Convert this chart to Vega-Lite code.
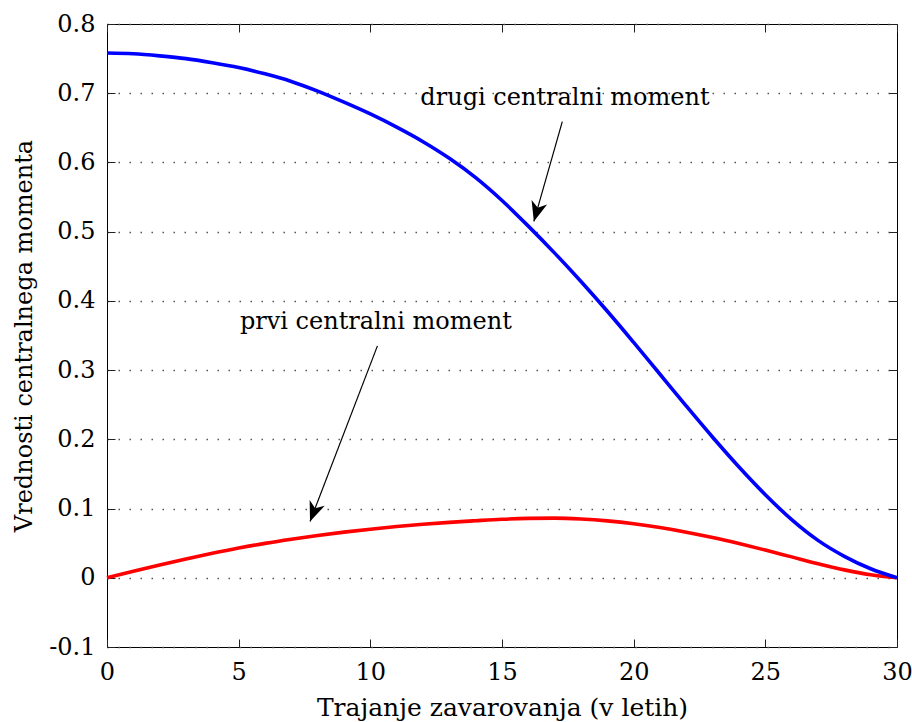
{
  "$schema": "https://vega.github.io/schema/vega-lite/v6.json",
  "width": 790,
  "height": 623,
  "autosize": "none",
  "padding": {"left": 107, "top": 24, "right": 15, "bottom": 75},
  "background": "white",
  "config": {
    "view": {"stroke": "black", "strokeWidth": 1},
    "font": "DejaVu Serif",
    "axis": {
      "labelFont": "DejaVu Serif",
      "labelFontSize": 24,
      "labelColor": "black",
      "titleFont": "DejaVu Serif",
      "titleFontSize": 25,
      "titleFontWeight": "normal",
      "titleColor": "black",
      "domain": false,
      "tickColor": "#222",
      "tickWidth": 1,
      "tickSize": -8
    }
  },
  "datasets": {
    "curves": [
      {"t": 0, "m": 0.0000, "s": "prvi"}, {"t": 1, "m": 0.0093, "s": "prvi"}, {"t": 2, "m": 0.0184, "s": "prvi"},
      {"t": 3, "m": 0.0271, "s": "prvi"}, {"t": 4, "m": 0.0353, "s": "prvi"}, {"t": 5, "m": 0.0429, "s": "prvi"},
      {"t": 6, "m": 0.0497, "s": "prvi"}, {"t": 7, "m": 0.0557, "s": "prvi"}, {"t": 8, "m": 0.0611, "s": "prvi"},
      {"t": 9, "m": 0.0659, "s": "prvi"}, {"t": 10, "m": 0.0702, "s": "prvi"}, {"t": 11, "m": 0.0740, "s": "prvi"},
      {"t": 12, "m": 0.0773, "s": "prvi"}, {"t": 13, "m": 0.0801, "s": "prvi"}, {"t": 14, "m": 0.0824, "s": "prvi"},
      {"t": 15, "m": 0.0845, "s": "prvi"}, {"t": 16, "m": 0.0858, "s": "prvi"}, {"t": 17, "m": 0.0862, "s": "prvi"},
      {"t": 18, "m": 0.0849, "s": "prvi"}, {"t": 19, "m": 0.0822, "s": "prvi"}, {"t": 20, "m": 0.0781, "s": "prvi"},
      {"t": 21, "m": 0.0726, "s": "prvi"}, {"t": 22, "m": 0.0659, "s": "prvi"}, {"t": 23, "m": 0.0581, "s": "prvi"},
      {"t": 24, "m": 0.0494, "s": "prvi"}, {"t": 25, "m": 0.0400, "s": "prvi"}, {"t": 26, "m": 0.0302, "s": "prvi"},
      {"t": 27, "m": 0.0204, "s": "prvi"}, {"t": 28, "m": 0.0114, "s": "prvi"}, {"t": 29, "m": 0.0044, "s": "prvi"},
      {"t": 30, "m": 0.0000, "s": "prvi"},
      {"t": 0, "m": 0.758, "s": "drugi"}, {"t": 1, "m": 0.757, "s": "drugi"}, {"t": 2, "m": 0.754, "s": "drugi"},
      {"t": 3, "m": 0.750, "s": "drugi"}, {"t": 4, "m": 0.744, "s": "drugi"}, {"t": 5, "m": 0.737, "s": "drugi"},
      {"t": 6, "m": 0.728, "s": "drugi"}, {"t": 7, "m": 0.717, "s": "drugi"}, {"t": 8, "m": 0.703, "s": "drugi"},
      {"t": 9, "m": 0.687, "s": "drugi"}, {"t": 10, "m": 0.670, "s": "drugi"}, {"t": 11, "m": 0.651, "s": "drugi"},
      {"t": 12, "m": 0.630, "s": "drugi"}, {"t": 13, "m": 0.606, "s": "drugi"}, {"t": 14, "m": 0.578, "s": "drugi"},
      {"t": 15, "m": 0.545, "s": "drugi"}, {"t": 16, "m": 0.508, "s": "drugi"}, {"t": 17, "m": 0.469, "s": "drugi"},
      {"t": 18, "m": 0.428, "s": "drugi"}, {"t": 19, "m": 0.385, "s": "drugi"}, {"t": 20, "m": 0.340, "s": "drugi"},
      {"t": 21, "m": 0.294, "s": "drugi"}, {"t": 22, "m": 0.248, "s": "drugi"}, {"t": 23, "m": 0.203, "s": "drugi"},
      {"t": 24, "m": 0.160, "s": "drugi"}, {"t": 25, "m": 0.120, "s": "drugi"}, {"t": 26, "m": 0.084, "s": "drugi"},
      {"t": 27, "m": 0.054, "s": "drugi"}, {"t": 28, "m": 0.031, "s": "drugi"}, {"t": 29, "m": 0.013, "s": "drugi"},
      {"t": 30, "m": 0.000, "s": "drugi"}
    ],
    "notes": [
      {"s": "drugi", "label": "drugi centralni moment", "tx": 17.39, "ty": 0.683, "x0": 17.29, "y0": 0.659, "x1": 16.21, "y1": 0.5148},
      {"s": "prvi", "label": "prvi centralni moment", "tx": 10.21, "ty": 0.360, "x0": 10.27, "y0": 0.335, "x1": 7.71, "y1": 0.0813}
    ]
  },
  "resolve": {"axis": {"x": "independent", "y": "independent"}},
  "layer": [
    {
      "data": {"name": "curves"},
      "transform": [{"filter": "datum.s === 'prvi'"}],
      "mark": {"type": "line", "color": "#ff0000", "strokeWidth": 3.6, "interpolate": "monotone"},
      "encoding": {
        "x": {
          "field": "t", "type": "quantitative",
          "scale": {"domain": [0, 30], "nice": false, "zero": false},
          "axis": {
            "orient": "bottom",
            "title": "Trajanje zavarovanja (v letih)",
            "titleFontSize": 25,
            "values": [0, 5, 10, 15, 20, 25, 30],
            "grid": false,
            "labelPadding": 21,
            "titlePadding": 11,
            "labelFlush": false
          }
        },
        "y": {
          "field": "m", "type": "quantitative",
          "scale": {"domain": [-0.1, 0.8], "nice": false, "zero": false},
          "axis": {
            "orient": "left",
            "title": "Vrednosti centralnega momenta",
            "titleFontSize": 24,
            "values": [-0.1, 0, 0.1, 0.2, 0.3, 0.4, 0.5, 0.6, 0.7, 0.8],
            "labelExpr": "datum.value == 0 ? '0' : replace(format(datum.value, '.1f'), '\u2212', '-')",
            "grid": true,
            "gridColor": "#555",
            "gridDash": [1.5, 9.5],
            "gridWidth": 1.4,
            "labelPadding": 20,
            "titlePadding": 12,
            "labelFlush": false
          }
        }
      }
    },
    {
      "data": {"name": "curves"},
      "transform": [{"filter": "datum.s === 'drugi'"}],
      "mark": {"type": "line", "color": "#0000ff", "strokeWidth": 3.6, "interpolate": "monotone"},
      "encoding": {
        "x": {
          "field": "t", "type": "quantitative",
          "axis": {"orient": "top", "title": null, "labels": false, "values": [0, 5, 10, 15, 20, 25, 30], "grid": false}
        },
        "y": {
          "field": "m", "type": "quantitative",
          "axis": {"orient": "right", "title": null, "labels": false, "values": [-0.1, 0, 0.1, 0.2, 0.3, 0.4, 0.5, 0.6, 0.7, 0.8], "grid": false}
        }
      }
    },
    {
      "data": {"name": "notes"},
      "mark": {"type": "rule", "color": "black", "strokeWidth": 1.2},
      "encoding": {
        "x": {"field": "x0", "type": "quantitative", "axis": null},
        "y": {"field": "y0", "type": "quantitative", "axis": null},
        "x2": {"field": "x1"},
        "y2": {"field": "y1"}
      }
    },
    {
      "data": {"name": "notes"},
      "transform": [{"filter": "datum.s === 'drugi'"}],
      "mark": {"type": "point", "shape": "M0,0L0.85,2.1L0,1.5L-0.85,2.1Z", "filled": true, "color": "black", "opacity": 1, "size": 361, "angle": 195.9, "strokeWidth": 0},
      "encoding": {
        "x": {"field": "x1", "type": "quantitative", "axis": null},
        "y": {"field": "y1", "type": "quantitative", "axis": null}
      }
    },
    {
      "data": {"name": "notes"},
      "transform": [{"filter": "datum.s === 'prvi'"}],
      "mark": {"type": "point", "shape": "M0,0L0.85,2.1L0,1.5L-0.85,2.1Z", "filled": true, "color": "black", "opacity": 1, "size": 361, "angle": 201.0, "strokeWidth": 0},
      "encoding": {
        "x": {"field": "x1", "type": "quantitative", "axis": null},
        "y": {"field": "y1", "type": "quantitative", "axis": null}
      }
    },
    {
      "data": {"name": "notes"},
      "mark": {"type": "text", "font": "DejaVu Serif", "fontSize": 24, "align": "center", "baseline": "alphabetic", "color": "black"},
      "encoding": {
        "x": {"field": "tx", "type": "quantitative", "axis": null},
        "y": {"field": "ty", "type": "quantitative", "axis": null},
        "text": {"field": "label"}
      }
    }
  ]
}
